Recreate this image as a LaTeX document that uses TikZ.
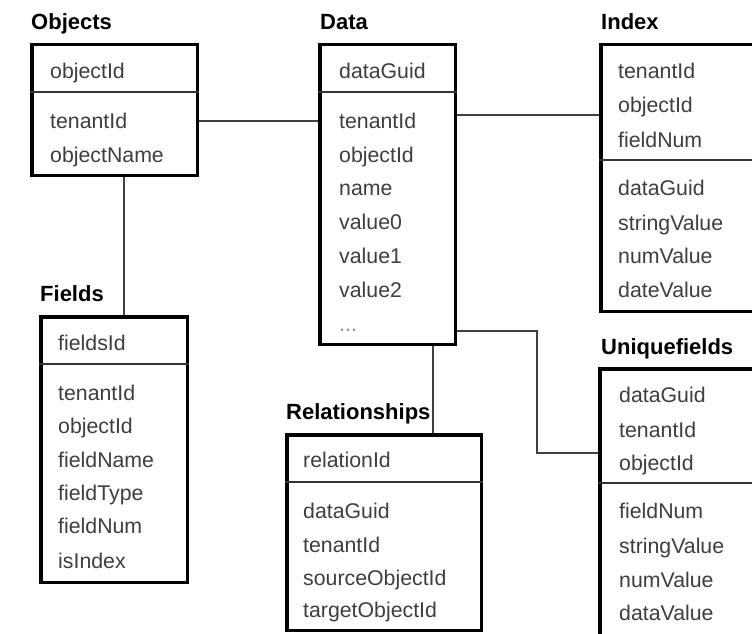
\documentclass[tikz,border=0pt]{standalone}
\usepackage{fontspec}
\setmainfont{Liberation Sans}
\definecolor{txt}{HTML}{3E3E3E}
\tikzset{
  box/.style={draw=black, line width=3.5pt, anchor=north west, inner sep=0pt},
  ttl/.style={font=\bfseries\fontsize{22}{22}\selectfont, anchor=base west, inner sep=0pt, text=black},
  fld/.style={font=\fontsize{21.3}{21.3}\selectfont, anchor=base west, inner sep=0pt, text=txt},
  div/.style={draw=black!80, line width=2pt},
  conn/.style={draw=black!75, line width=2pt},
}
\begin{document}
\begin{tikzpicture}[x=1pt,y=-1pt]
\useasboundingbox (0,0) rectangle (752,634);
\clip (0,0) rectangle (752,634);
\fill[white] (0,0) rectangle (752,634);

% boxes
\node[box, minimum width=165.5pt, minimum height=130.5pt] (objects) at (30,43) {};
\node[box, minimum width=135.5pt, minimum height=299.5pt] (data) at (318,43) {};
\node[box, minimum width=177.5pt, minimum height=266.5pt] (index) at (599,43) {};
\node[box, minimum width=146.5pt, minimum height=265.5pt] (fields) at (39,315) {};
\node[box, minimum width=194.5pt, minimum height=195.5pt] (rel) at (285,433) {};
\node[box, minimum width=178.5pt, minimum height=289.5pt] (uniq) at (598,367) {};

% dividers
\draw[div] (objects.west |- 0,92) -- (objects.east |- 0,92);
\draw[div] (data.west |- 0,92) -- (data.east |- 0,92);
\draw[div] (index.west |- 0,160) -- (index.east |- 0,160);
\draw[div] (fields.west |- 0,364) -- (fields.east |- 0,364);
\draw[div] (rel.west |- 0,482) -- (rel.east |- 0,482);
\draw[div] (uniq.west |- 0,483) -- (uniq.east |- 0,483);

% titles
\node[ttl] (tObjects) at (31,30) {Objects};
\node[ttl] (tData) at (320,30) {Data};
\node[ttl] (tIndex) at (601,30) {Index};
\node[ttl] (tFields) at (40,301) {Fields};
\node[ttl] (tRel) at (286,419) {Relationships};
\node[ttl] (tUniq) at (601,354) {Uniquefields};

% fields
\foreach \t/\y [count=\i] in {objectId/78, tenantId/128, objectName/162}
  \node[fld] (ob\i) at (50,\y) {\t};
\foreach \t/\y [count=\i] in {dataGuid/78, tenantId/128, objectId/162, name/195, value0/229, value1/263, value2/297}
  \node[fld] (da\i) at (339,\y) {\t};
\node[fld, text=black!45] (da8) at (339,331) {...};
\foreach \t/\y [count=\i] in {tenantId/78, objectId/112, fieldNum/147, dataGuid/195, stringValue/230, numValue/263, dateValue/297}
  \node[fld] (in\i) at (618,\y) {\t};
\foreach \t/\y [count=\i] in {fieldsId/350, tenantId/400, objectId/433, fieldName/467, fieldType/500, fieldNum/533, isIndex/568}
  \node[fld] (fi\i) at (58,\y) {\t};
\foreach \t/\y [count=\i] in {relationId/467, dataGuid/518, tenantId/552, sourceObjectId/585, targetObjectId/617}
  \node[fld] (re\i) at (303,\y) {\t};
\foreach \t/\y [count=\i] in {dataGuid/402, tenantId/437, objectId/470, fieldNum/518, stringValue/553, numValue/587, dataValue/620}
  \node[fld] (un\i) at (619,\y) {\t};

% connectors
\draw[conn] (objects.east |- 0,121) -- (data.west |- 0,121);
\draw[conn] (objects.south -| 124,0) -- (fields.north -| 124,0);
\draw[conn] (data.east |- 0,115) -- (index.west |- 0,115);
\draw[conn] (data.south -| 433,0) -- (rel.north -| 433,0);
\coordinate (bend) at (537,453);
\draw[conn] (data.east |- 0,331) -| (bend) -- (uniq.west |- bend);
\end{tikzpicture}
\end{document}
